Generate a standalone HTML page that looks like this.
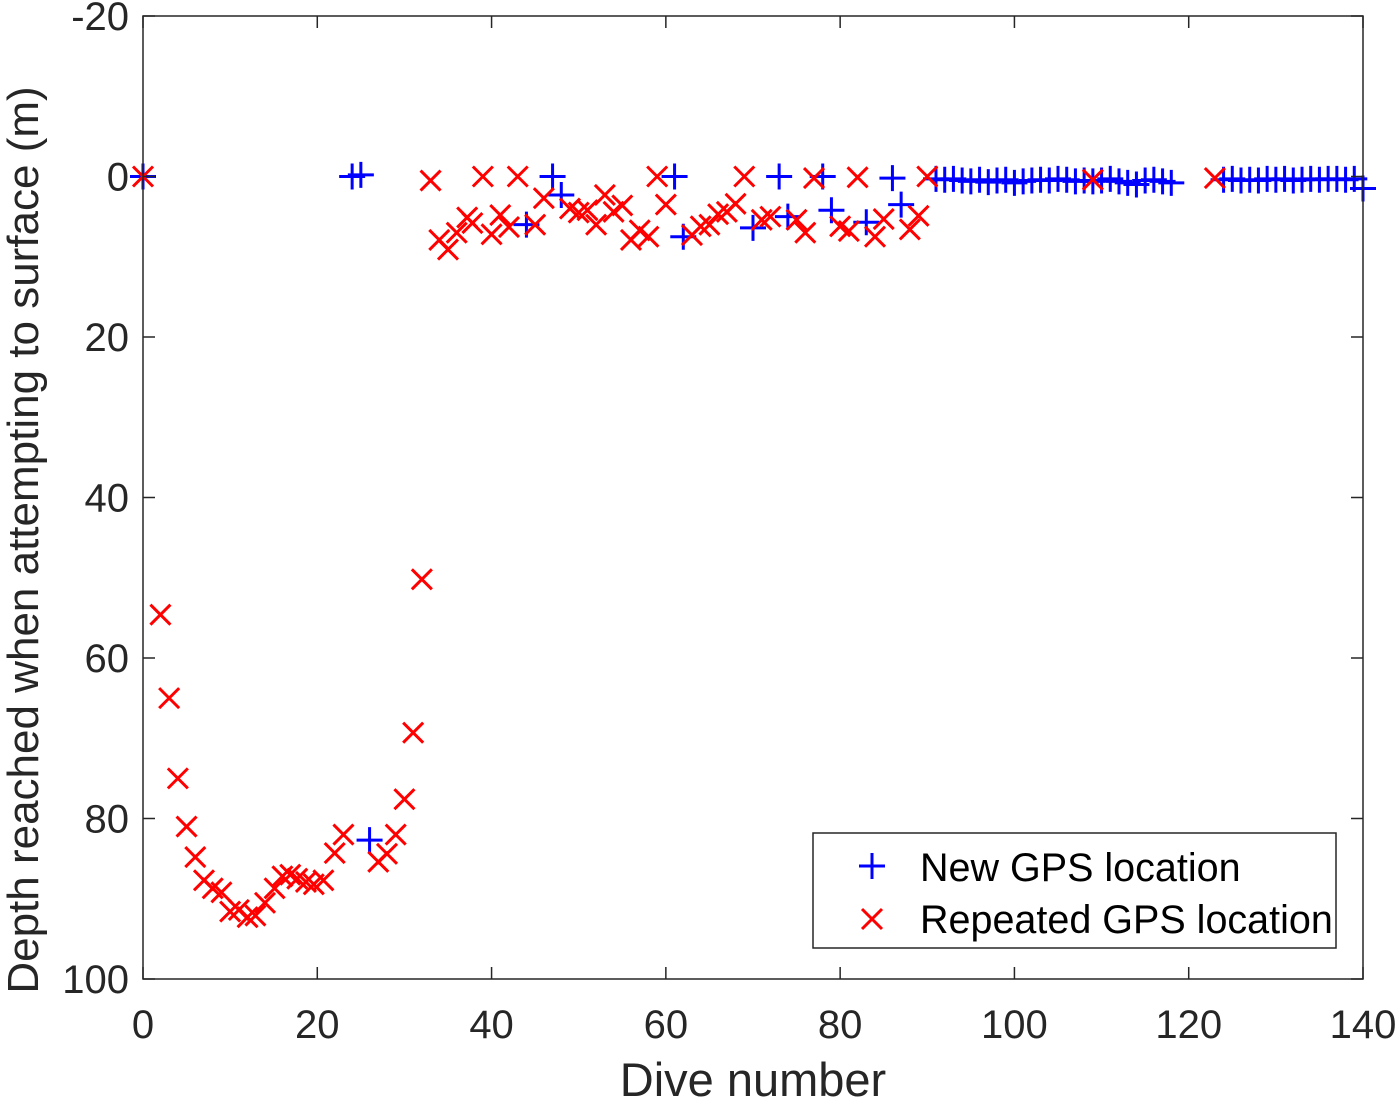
<!DOCTYPE html>
<html><head><meta charset="utf-8"><style>
body{margin:0;background:#fff;}
svg text{font-family:"Liberation Sans",Arial,sans-serif;fill:#262626;}
</style></head><body>
<svg id="chart" width="1400" height="1101" xmlns="http://www.w3.org/2000/svg">
<rect width="1400" height="1101" fill="#fff"/>
<g id="marks"></g>
<g id="axes"></g>
</svg>
<script>
const xTicks=[0,20,40,60,80,100,120,140];
const yTicks=[-20,0,20,40,60,80,100];
const newX=[0,24,25,26,44,47,48,61,62,70,73,74,78,79,83,86,87,
91,92,93,94,95,96,97,98,99,100,101,102,103,104,105,106,107,108,109,110,111,112,113,114,115,116,117,118,
124,125,126,127,128,129,130,131,132,133,134,135,136,137,138,139,140];
const newY=[0,0,-0.2,82.7,6,0,2.3,0,7.5,6.4,0,5,0,4.2,5.7,0.2,3.5,
0.3,0.4,0.3,0.5,0.6,0.4,0.7,0.5,0.4,0.8,0.6,0.5,0.4,0.5,0.3,0.4,0.6,0.5,0.6,0.5,0.3,0.6,0.8,1.0,0.5,0.4,0.6,0.8,
0.4,0.3,0.5,0.4,0.5,0.3,0.4,0.3,0.5,0.4,0.3,0.4,0.3,0.3,0.4,0.3,1.5];
const repX=[0,2,3,4,5,6,7,8,9,10,11,12,12.9,14,15.1,16,16.9,17.7,18.7,19.6,20.7,22,23,27,28,29,30,31,32,
33,34,35,36,37.2,37.8,39,40,41,42,43,45,46,49,50,51,52,53,54,55,56,57,58,59,60,63,64,65,66,67,68,69,71,72,75,76,77,80,81,82,84,85,88,89,90,109,123];
const repY=[0,54.6,65,75,81,84.8,87.7,88.7,89.2,91.6,91.4,92.3,92.1,90.5,88.7,87.2,87,87.5,87.9,88.2,87.7,84.3,82,85.4,84.4,82,77.6,69.3,50.2,
0.5,7.9,9.1,7,5.1,5.8,0,7.2,4.8,6.3,0,6,2.7,4,4.5,4.2,6.0,2.3,4.4,3.6,7.9,6.7,7.5,0,3.5,7.3,6.2,6.0,4.7,4.4,3.4,0,5.4,5.0,5.4,7.0,0.2,6.2,6.8,0.1,7.5,5.3,6.6,4.9,0,0.4,0.2];
const X0=143,X1=1363,Y0=16,Y1=979;
const sx=v=>X0+(v-0)/140*(X1-X0);
const sy=v=>Y0+(v+20)/120*(Y1-Y0);
const NS="http://www.w3.org/2000/svg";
const marks=document.getElementById('marks'),axes=document.getElementById('axes');
function mk(tag,attrs,parent){const e=document.createElementNS(NS,tag);for(const k in attrs)e.setAttribute(k,attrs[k]);parent.appendChild(e);return e;}
newX.forEach((x,i)=>{const cx=sx(x),cy=sy(newY[i]),h=13;
 const p=mk('path',{d:`M${cx-h},${cy}H${cx+h}M${cx},${cy-h}V${cy+h}`,stroke:'#0000ff','stroke-width':3,fill:'none'},marks);
 
 });
repX.forEach((x,i)=>{const cx=sx(x),cy=sy(repY[i]),h=10;
 const p=mk('path',{d:`M${cx-h},${cy-h}L${cx+h},${cy+h}M${cx-h},${cy+h}L${cx+h},${cy-h}`,stroke:'#ff0000','stroke-width':3,fill:'none'},marks);
 
 });
const frame=mk('rect',{x:X0,y:Y0,width:X1-X0,height:Y1-Y0,fill:'none',stroke:'#262626','stroke-width':1.5},axes);


xTicks.forEach(t=>{const x=sx(t);
 mk('path',{d:`M${x},${Y1}V${Y1-12}M${x},${Y0}V${Y0+12}`,stroke:'#262626','stroke-width':1.5},axes);
 const tx=mk('text',{x:x,y:1038,'text-anchor':'middle','font-size':40},axes);tx.textContent=t;
 
 });
yTicks.forEach(t=>{const y=sy(t);
 mk('path',{d:`M${X0},${y}H${X0+12}M${X1},${y}H${X1-12}`,stroke:'#262626','stroke-width':1.5},axes);
 const tx=mk('text',{x:129,y:y+14,'text-anchor':'end','font-size':40},axes);tx.textContent=t;
 
 });
const xl=mk('text',{x:753,y:1096,'text-anchor':'middle','font-size':47},axes);xl.textContent='Dive number';


const yl=mk('text',{x:0,y:0,'text-anchor':'middle','font-size':44,transform:'translate(38,540) rotate(-90)'},axes);yl.textContent='Depth reached when attempting to surface (m)';


const lg=mk('g',{},axes);


mk('rect',{x:813,y:833,width:523,height:115,fill:'#fff',stroke:'#262626','stroke-width':1.5},lg);
mk('path',{d:'M859,866H885M872,853V879',stroke:'#0000ff','stroke-width':3},lg);
mk('path',{d:'M862,909L882,929M862,929L882,909',stroke:'#ff0000','stroke-width':3},lg);
const l1=mk('text',{x:920,y:881,'font-size':39.5,style:'fill:#000'},lg);l1.textContent='New GPS location';


const l2=mk('text',{x:920,y:933,'font-size':39.5,style:'fill:#000'},lg);l2.textContent='Repeated GPS location';


</script>
</body></html>
